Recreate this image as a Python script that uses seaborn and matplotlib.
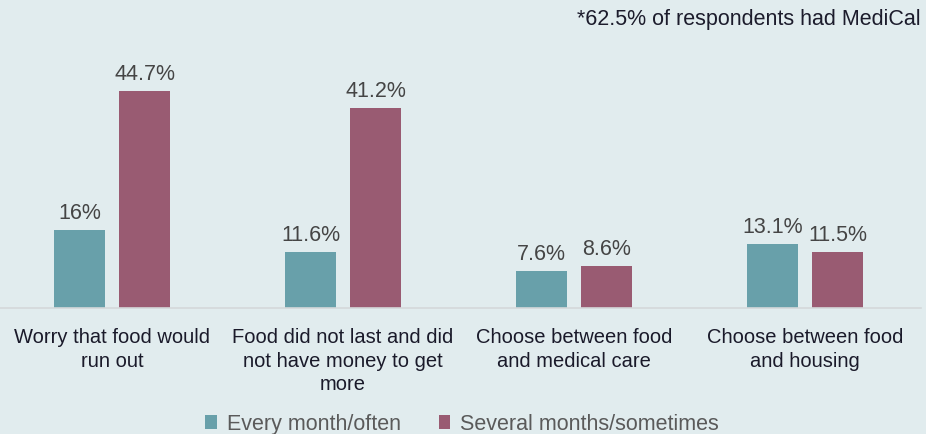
import matplotlib
matplotlib.use("Agg")
import matplotlib.pyplot as plt
from matplotlib.patches import Patch
import seaborn as sns
import pandas as pd

categories = [
    "Worry that food would\nrun out",
    "Food did not last and did\nnot have money to get\nmore",
    "Choose between food\nand medical care",
    "Choose between food\nand housing",
]
series_names = ["Every month/often", "Several months/sometimes"]
often_values = [16.0, 11.6, 7.6, 13.1]
sometimes_values = [44.7, 41.2, 8.6, 11.5]
value_labels = {
    "Every month/often": ["16%", "11.6%", "7.6%", "13.1%"],
    "Several months/sometimes": ["44.7%", "41.2%", "8.6%", "11.5%"],
}
footnote = "*62.5% of respondents had MediCal"

colors = ["#68a0aa", "#995b72"]
bg = "#e1ecee"

df = pd.DataFrame({
    "category": categories * 2,
    "series": [series_names[0]] * 4 + [series_names[1]] * 4,
    "value": often_values + sometimes_values,
})

sns.set_theme(style="white")
plt.rcParams["font.family"] = ["Liberation Sans", "DejaVu Sans"]

fig = plt.figure(figsize=(9.26, 4.35), dpi=100, facecolor=bg)
ax = fig.add_axes([-3.5 / 926, 126 / 435, 924 / 926, 242.75 / 435])
ax.set_facecolor(bg)

sns.barplot(data=df, x="category", y="value", hue="series", order=categories,
            hue_order=series_names, palette=colors, width=0.563, gap=0.21,
            ax=ax, legend=False, saturation=1, linewidth=0)

for container, name in zip(ax.containers, series_names):
    ax.bar_label(container, labels=value_labels[name], padding=5,
                 fontsize=15.5, color="#454545")

ax.set_ylim(0, 50)
ax.set_xlim(-0.5, 3.5)
ax.set_xlabel("")
ax.set_ylabel("")
ax.set_yticks([])
for side in ["top", "left", "right"]:
    ax.spines[side].set_visible(False)
ax.spines["bottom"].set_color("#d4d8da")
ax.spines["bottom"].set_linewidth(1.2)
ax.tick_params(axis="x", length=0, pad=14, labelsize=14.5, labelcolor="#1a1a2a")
for lbl in ax.get_xticklabels():
    lbl.set_linespacing(1.3)
    lbl.set_verticalalignment("top")

handles = [Patch(facecolor=c, edgecolor="none") for c in colors]
fig.legend(handles, series_names, loc="center", bbox_to_anchor=(0.499, 10 / 435),
           ncol=2, frameon=False, fontsize=15.5, labelcolor="#5a5a5a",
           handlelength=0.55, handleheight=0.65, handletextpad=0.45,
           columnspacing=1.75, borderpad=0, borderaxespad=0)

fig.text(577 / 926, 1 - 25 / 435, footnote, fontsize=15.5, color="#1c1c2c",
         ha="left", va="baseline")

fig.savefig("out.png", dpi=100, facecolor=bg)
